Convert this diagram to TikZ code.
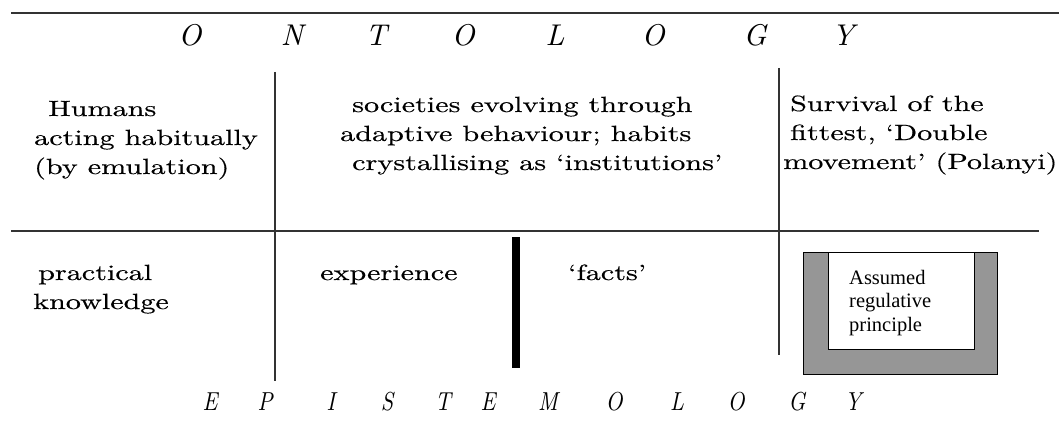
\documentclass[tikz,border=0pt]{standalone}
\usepackage{fontspec}
\setmainfont{lmroman10-regular.otf}[FakeStretch=1.37, FakeBold=0.4]
\newfontfamily\ontofont{lmroman10-italic.otf}
\newfontfamily\epifont{lmroman10-italic.otf}[FakeStretch=0.85]
\newfontfamily\boxfont{Liberation Serif}
\definecolor{boxgray}{RGB}{150,150,150}
\tikzset{
  txt/.style={anchor=base west, inner sep=0pt, font=\fontsize{22}{29}\selectfont},
  onto/.style={anchor=base, inner sep=0pt, font=\ontofont\fontsize{30}{30}\selectfont},
  epi/.style={anchor=base, inner sep=0pt, font=\epifont\fontsize{26}{26}\selectfont},
  boxtxt/.style={anchor=base west, inner sep=0pt, font=\boxfont\fontsize{20.5}{24}\selectfont},
  rule/.style={line width=1.2pt, black!80}
}
\begin{document}
\begin{tikzpicture}[x=1pt,y=-1pt]
  \useasboundingbox (0,0) rectangle (1059,441);
  % dividing lines
  \draw[rule] (11,13) -- (1059,13);
  \draw[rule] (11,231) -- (1039,231);
  \draw[rule] (275,72) -- (275,381);
  \draw[rule] (779,68) -- (779,355);
  \fill (512,237) rectangle (519.5,368);
  % ontology letters
  \foreach \ch/\xx [count=\i] in {O/190,N/292,T/376,O/463,L/555,O/653,G/755,Y/843}
    \node[onto] (onto\i) at (\xx,46) {\ch};
  % top row
  \node[txt] (hum1) at (48,116) {Humans};
  \node[txt] (hum2) at (34,145) {acting habitually};
  \node[txt] (hum3) at (34,174) {(by emulation)};
  \node[txt] (soc1) at (352,112) {societies evolving through};
  \node[txt] (soc2) at (340,141) {adaptive behaviour; habits};
  \node[txt] (soc3) at (352,170) {crystallising as ‘institutions’};
  \node[txt] (surv1) at (790,111) {Survival of the};
  \node[txt] (surv2) at (790,140) {fittest, ‘Double};
  \node[txt] (surv3) at (783,169) {movement’ (Polanyi)};
  % bottom row
  \node[txt] (prac1) at (38,280) {practical};
  \node[txt] (prac2) at (33,309) {knowledge};
  \node[txt] (exp) at (320,280) {experience};
  \node[txt] (facts) at (568,280) {‘facts’};
  % regulative principle box
  \draw[fill=boxgray, line width=1pt] (803,252) rectangle (997,374);
  \draw[fill=white, line width=1pt] (828,252) rectangle (974,349);
  \node[boxtxt] (reg1) at (849,284) {Assumed};
  \node[boxtxt] (reg2) at (849,307) {regulative};
  \node[boxtxt] (reg3) at (849,331) {principle};
  % epistemology letters
  \foreach \ch/\xx [count=\i] in {E/210,P/265,I/331,S/387,T/443,E/488,M/548,O/614,L/677,O/736,G/797,Y/853}
    \node[epi] (epi\i) at (\xx,410) {\ch};
\end{tikzpicture}
\end{document}
